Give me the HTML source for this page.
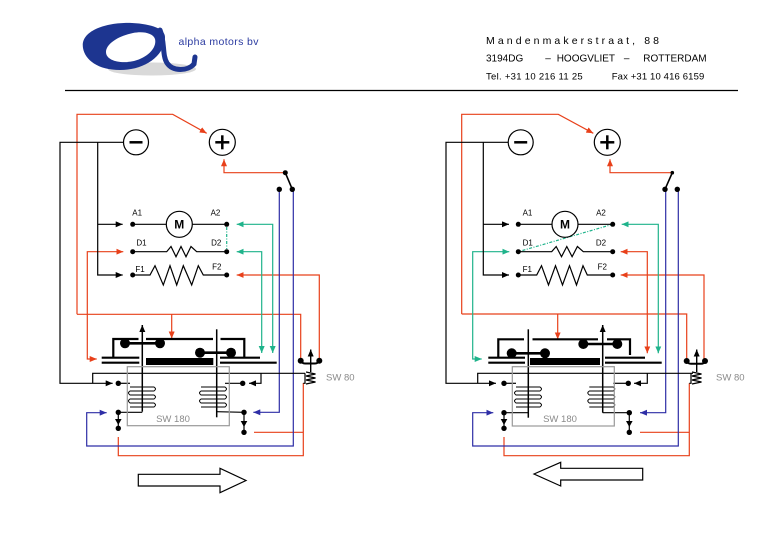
<!DOCTYPE html>
<html><head><meta charset="utf-8"><style>
html,body{margin:0;padding:0;background:#fff;}
svg{display:block;}
text{font-family:"Liberation Sans",sans-serif;}
</style></head><body>
<svg width="780" height="540" viewBox="0 0 780 540" xmlns="http://www.w3.org/2000/svg">
<defs>
<marker id="mR" viewBox="0 0 7 6" refX="7" refY="3" markerWidth="7" markerHeight="6" markerUnits="userSpaceOnUse" orient="auto-start-reverse"><path d="M0,0L7,3L0,6z" fill="#e8401a"/></marker>
<marker id="mT" viewBox="0 0 7 6" refX="7" refY="3" markerWidth="7" markerHeight="6" markerUnits="userSpaceOnUse" orient="auto-start-reverse"><path d="M0,0L7,3L0,6z" fill="#1fb38b"/></marker>
<marker id="mB" viewBox="0 0 7 6" refX="7" refY="3" markerWidth="7" markerHeight="6" markerUnits="userSpaceOnUse" orient="auto-start-reverse"><path d="M0,0L7,3L0,6z" fill="#2e2ea6"/></marker>
<marker id="mK" viewBox="0 0 7 6" refX="7" refY="3" markerWidth="7" markerHeight="6" markerUnits="userSpaceOnUse" orient="auto-start-reverse"><path d="M0,0L7,3L0,6z" fill="#000"/></marker>
</defs>

<!-- ===== HEADER ===== -->
<ellipse cx="152" cy="69" rx="44" ry="6.5" fill="#d9d9d9"/>
<path fill-rule="evenodd" fill="#1d3590" d="M83,48 C80,30 108,22 132,23 C152,24 165,29 165,37 C165,55 146,70 120,70 C98,70 85,60 83,48 Z M106,52 C106,61 121,64 134,61 C149,57 157,47 155,39 C153,33 143,31 133,33 C118,36 106,44 106,52 Z"/>
<path d="M160,30 C165,42 162,55 167,63 C173,72 188,71 194,64 L195,57" fill="none" stroke="#1d3590" stroke-width="5" stroke-linecap="round"/>
<text x="178.5" y="45" font-size="10.5" fill="#2a3aa0" textLength="80" lengthAdjust="spacing">alpha motors bv</text>

<text x="486" y="44" font-size="10.5" fill="#000" textLength="173" lengthAdjust="spacing">Mandenmakerstraat, 88</text>
<text x="486" y="61.7" font-size="10" fill="#000">3194DG</text>
<text x="548" y="61.7" font-size="10" fill="#000" text-anchor="middle">–</text>
<text x="556.7" y="61.7" font-size="10" fill="#000">HOOGVLIET</text>
<text x="626.7" y="61.7" font-size="10" fill="#000" text-anchor="middle">–</text>
<text x="643.3" y="61.7" font-size="10" fill="#000">ROTTERDAM</text>
<text x="486" y="79.3" font-size="9.5" fill="#000" textLength="96.7" lengthAdjust="spacing">Tel. +31 10 216 11 25</text>
<text x="611.7" y="79.3" font-size="9.5" fill="#000" textLength="92.6" lengthAdjust="spacing">Fax +31 10 416 6159</text>
<line x1="65" y1="90.5" x2="738" y2="90.5" stroke="#000" stroke-width="1.2"/>

<!-- ===== LEFT DIAGRAM ===== -->
<g fill="none" stroke-width="1.2">
<g stroke="#e8401a">
<polyline points="77,314.3 77,114.3 172.7,114.3 206.7,133.3" marker-end="url(#mR)"/>
<polyline points="77,314.3 300.7,314.3 300.7,361"/>
<line x1="171.7" y1="314.3" x2="171.7" y2="338.5" marker-end="url(#mR)"/>
<polyline points="96.7,359 87.3,359 87.3,251.7 123.3,251.7" marker-start="url(#mR)" marker-end="url(#mR)"/>
<polyline points="236.7,275 319.3,275 319.3,361" marker-start="url(#mR)"/>
<polyline points="118.3,437 118.3,455.7 303.3,455.7 303.3,383"/>
<line x1="254" y1="432.3" x2="303.3" y2="432.3"/>
<polyline points="224,159.3 224,172.7 285.3,172.7" marker-start="url(#mR)"/>
</g>
<g stroke="#1fb38b">
<polyline points="236.7,224.3 272.7,224.3 272.7,353" marker-start="url(#mT)" marker-end="url(#mT)"/>
<polyline points="236.7,251.7 261.7,251.7 261.7,353" marker-start="url(#mT)" marker-end="url(#mT)"/>
<line x1="226.7" y1="227" x2="226.7" y2="249" stroke-dasharray="3,1.5,1,1.5"/>
</g>
<g stroke="#2e2ea6">
<polyline points="279.3,189.3 279.3,412.3 253.3,412.3" marker-end="url(#mB)"/>
<polyline points="293.3,189.3 293.3,446 86.7,446 86.7,412.7 106.7,412.7" marker-end="url(#mB)"/>
</g>
<g stroke="#000">
<polyline points="123.5,142.3 60,142.3 60,383.3 112.7,383.3" marker-end="url(#mK)"/>
<polyline points="97.7,142.3 97.7,275 122.7,275" marker-end="url(#mK)"/>
<line x1="97.7" y1="224.3" x2="122.7" y2="224.3" marker-end="url(#mK)"/>
<line x1="132.7" y1="224.3" x2="166.3" y2="224.3"/>
<line x1="192.3" y1="224.3" x2="226.7" y2="224.3"/>
<path d="M132.7,251.7 L166.7,251.7 L171,246.5 L176,256.7 L181,246.5 L186,256.7 L191,246.5 L196.7,251.7 L226.7,251.7"/>
<path d="M132.7,275 L150,275 L155,265.7 L163.3,285 L170,265.7 L176.7,285 L183.3,265.7 L191.7,285 L198.3,265.7 L203.3,275 L226.7,275"/>
<line x1="285.3" y1="172.7" x2="292.3" y2="189.3" stroke-width="1.6"/>
<polyline points="305,373.3 92.7,373.3 92.7,383.3"/>
<polyline points="261,373.3 261,383.3 249,383.3" marker-end="url(#mK)"/>
<polyline points="305,373.3 305,383.3 303.3,383.3"/>
<path d="M306,372 L315.5,374 L306,376 L315.5,378 L306,380 L315.5,382 L306,384"/>
<line x1="310.7" y1="372" x2="310.7" y2="349.5" marker-end="url(#mK)" stroke-width="1.4"/>
<path d="M300.7,360.7 Q302,363.5 305,363.5 L315,363.5 Q318,363.5 319.3,360.7" stroke-width="2"/>
<line x1="118.3" y1="383.3" x2="130" y2="383.3"/>
<line x1="225" y1="383.3" x2="242.7" y2="383.3"/>
<line x1="118.3" y1="412.3" x2="142.3" y2="412.3"/>
<line x1="118.3" y1="412.3" x2="118.3" y2="428.3"/>
<line x1="216.7" y1="411.7" x2="244" y2="412.3"/>
<line x1="244" y1="412.3" x2="244" y2="432.3"/>
<g stroke-width="2.2">
<line x1="101.7" y1="357.7" x2="139.3" y2="357.7"/>
<line x1="101.7" y1="362.7" x2="139.3" y2="362.7"/>
<line x1="220" y1="357.7" x2="260" y2="357.7"/>
<line x1="220" y1="362.7" x2="276.7" y2="362.7"/>
<polyline points="113.3,357.7 113.3,339 138.5,339"/>
<line x1="146" y1="339" x2="213" y2="339"/>
<polyline points="220.5,339 244.3,339 244.3,357"/>
<line x1="125" y1="343.3" x2="160" y2="343.3" stroke-width="2.6"/>
<line x1="200" y1="352.7" x2="231" y2="352.7" stroke-width="2.6"/>
</g>
<line x1="142.3" y1="411.7" x2="142.3" y2="325" stroke-width="1.5" marker-end="url(#mK)"/>
<line x1="216.7" y1="329.3" x2="216.7" y2="417.3" stroke-width="1.5"/>
<path d="M130,387 L154,387 Q157,389 154,391 L130,391 Q127,393 130,395 L154,395 Q157,397 154,399 L130,399 Q127,401 130,403 L154,403 Q157,405 154,407 L130,407" stroke-width="1"/>
<path d="M201,387 L225,387 Q228,389 225,391 L201,391 Q198,393 201,395 L225,395 Q228,397 225,399 L201,399 Q198,401 201,403 L225,403 Q228,405 225,407 L201,407" stroke-width="1"/>
</g>
<rect x="127.3" y="366.7" width="102" height="59" stroke="#999" stroke-width="1.2"/>
</g>
<g fill="#000">
<rect x="146" y="358" width="67.3" height="7"/>
<circle cx="125" cy="343.3" r="5"/><circle cx="160" cy="343.3" r="5"/>
<circle cx="200" cy="352.7" r="5"/><circle cx="231" cy="352.7" r="5"/>
<circle cx="132.7" cy="224.3" r="2.5"/><circle cx="226.7" cy="224.3" r="2.5"/>
<circle cx="132.7" cy="251.7" r="2.5"/><circle cx="226.7" cy="251.7" r="2.5"/>
<circle cx="132.7" cy="275" r="2.5"/><circle cx="226.7" cy="275" r="2.5"/>
<circle cx="285.3" cy="172.7" r="2.5"/><circle cx="279.3" cy="189.3" r="2.7"/><circle cx="292.3" cy="189.3" r="2.7"/>
<circle cx="300.7" cy="360.7" r="3"/><circle cx="319.3" cy="360.7" r="3"/>
<circle cx="118.3" cy="383.3" r="2.7"/><circle cx="242.7" cy="383.3" r="2.7"/>
<circle cx="118.3" cy="412.3" r="2.7"/><circle cx="118.3" cy="428.3" r="2.7"/>
<circle cx="244" cy="412.3" r="2.7"/><circle cx="244" cy="432.3" r="2.7"/>
<polygon points="118.3,425 115,419 121.6,419"/>
<polygon points="244,427 240.7,421 247.3,421"/>
</g>
<g fill="#fff" stroke="#000" stroke-width="1.2">
<circle cx="136" cy="142.3" r="12.5"/>
<circle cx="222.3" cy="142.3" r="13"/>
<circle cx="179.3" cy="224.3" r="13"/>
</g>
<g stroke="#000" stroke-width="2.5">
<line x1="129.5" y1="142.3" x2="142.5" y2="142.3"/>
<line x1="215.3" y1="142.3" x2="229.3" y2="142.3"/>
<line x1="222.3" y1="135.3" x2="222.3" y2="149.3"/>
</g>
<text x="179.3" y="228.6" font-size="12" font-weight="bold" text-anchor="middle">M</text>
<g font-size="8" text-anchor="middle" fill="#000">
<text x="137.2" y="215.5">A1</text><text x="215.5" y="215.5">A2</text>
<text x="141.5" y="245.5">D1</text><text x="216.2" y="245.5">D2</text>
<text x="140" y="272">F1</text><text x="216.8" y="269.5">F2</text>
</g>
<text x="173" y="422" font-size="9.5" text-anchor="middle" fill="#8a8a8a">SW 180</text>
<text x="326" y="380.5" font-size="9.5" fill="#8a8a8a">SW 80</text>

<!-- ===== RIGHT DIAGRAM ===== -->
<g fill="none" stroke-width="1.2">
<g stroke="#e8401a">
<polyline points="461.7,314 461.7,114.3 558.3,114.3 593.3,133.3" marker-end="url(#mR)"/>
<polyline points="461.7,314 686.7,314 686.7,361"/>
<line x1="557.7" y1="314" x2="557.7" y2="339.3" marker-end="url(#mR)"/>
<polyline points="620.7,251.7 647.3,251.7 647.3,353.3" marker-start="url(#mR)" marker-end="url(#mR)"/>
<polyline points="620.7,275 704,275 704,361" marker-start="url(#mR)"/>
<polyline points="504,437 504,455.7 689.3,455.7 689.3,383.3"/>
<line x1="640" y1="432.3" x2="689.3" y2="432.3"/>
<polyline points="610,159.3 610,172.7 672.3,172.7" marker-start="url(#mR)"/>
</g>
<g stroke="#1fb38b">
<polyline points="621.7,224.3 658.3,224.3 658.3,353.3" marker-start="url(#mT)" marker-end="url(#mT)"/>
<polyline points="481.7,359 472.7,359 472.7,251.7 509.3,251.7" marker-start="url(#mT)" marker-end="url(#mT)"/>
<line x1="612.7" y1="224.3" x2="518.3" y2="251.7" stroke-dasharray="3,1.5,1,1.5"/>
</g>
<g stroke="#2e2ea6">
<polyline points="665.7,189.3 665.7,412.7 640,412.7" marker-end="url(#mB)"/>
<polyline points="678.3,189.3 678.3,446 472.7,446 472.7,412.7 493.3,412.7" marker-end="url(#mB)"/>
</g>
<g stroke="#000">
<polyline points="508,142.3 446,142.3 446,383.3 496,383.3" marker-end="url(#mK)"/>
<polyline points="483.3,142.3 483.3,275 509,275" marker-end="url(#mK)"/>
<line x1="483.3" y1="224.3" x2="509" y2="224.3" marker-end="url(#mK)"/>
<line x1="518.3" y1="224.3" x2="552" y2="224.3"/>
<line x1="578" y1="224.3" x2="612.7" y2="224.3"/>
<path d="M518.3,251.7 L551.7,251.7 L556.2,246.5 L561.5,256.7 L566.8,246.5 L572.1,256.7 L577.4,246.5 L583.3,251.7 L612.7,251.7"/>
<path d="M518.3,275 L536.7,275 L541.5,265.7 L548.5,285 L555.5,265.7 L562.5,285 L569.5,265.7 L576.5,285 L583,265.7 L587.3,275 L612.7,275"/>
<line x1="672.3" y1="172.7" x2="665" y2="189.3" stroke-width="1.6"/>
<polyline points="693,373.3 477.7,373.3 477.7,383.3"/>
<polyline points="647.3,373.3 647.3,383.3 634,383.3" marker-end="url(#mK)"/>
<polyline points="691,373.3 691,383.3 689.3,383.3"/>
<path d="M692,372 L701.5,374 L692,376 L701.5,378 L692,380 L701.5,382 L692,384"/>
<line x1="696.7" y1="372" x2="696.7" y2="349.5" marker-end="url(#mK)" stroke-width="1.4"/>
<path d="M686.7,361 Q688,363.8 691,363.8 L701,363.8 Q704,363.8 705,361" stroke-width="2"/>
<line x1="504" y1="383.3" x2="516" y2="383.3"/>
<line x1="613.3" y1="383.3" x2="628.3" y2="383.3"/>
<line x1="504" y1="412.7" x2="528.3" y2="412.7"/>
<line x1="504" y1="412.7" x2="504" y2="428.3"/>
<line x1="602.7" y1="412.7" x2="629.3" y2="412.7"/>
<line x1="629.3" y1="412.7" x2="629.3" y2="432.3"/>
<g stroke-width="2.2">
<line x1="488.3" y1="357.7" x2="525" y2="357.7"/>
<line x1="488.3" y1="362.7" x2="525" y2="362.7"/>
<line x1="605" y1="357.7" x2="645" y2="357.7"/>
<line x1="605" y1="362.7" x2="661.7" y2="362.7"/>
<polyline points="498.3,357.7 498.3,339.3 524,339.3"/>
<line x1="532.5" y1="339.3" x2="598" y2="339.3"/>
<polyline points="607,339.3 630,339.3 630,355"/>
<line x1="511.7" y1="353.3" x2="545" y2="353.3" stroke-width="2.6"/>
<line x1="583.3" y1="344" x2="617.3" y2="344" stroke-width="2.6"/>
</g>
<line x1="528.3" y1="329.3" x2="528.3" y2="417.7" stroke-width="1.5"/>
<line x1="602.7" y1="412.7" x2="602.7" y2="325" stroke-width="1.5" marker-end="url(#mK)"/>
<path d="M516,387 L540,387 Q543,389 540,391 L516,391 Q513,393 516,395 L540,395 Q543,397 540,399 L516,399 Q513,401 516,403 L540,403 Q543,405 540,407 L516,407" stroke-width="1"/>
<path d="M589.3,387 L613.3,387 Q616.3,389 613.3,391 L589.3,391 Q586.3,393 589.3,395 L613.3,395 Q616.3,397 613.3,399 L589.3,399 Q586.3,401 589.3,403 L613.3,403 Q616.3,405 613.3,407 L589.3,407" stroke-width="1"/>
</g>
<rect x="512.3" y="366.7" width="102" height="59.3" stroke="#999" stroke-width="1.2"/>
</g>
<g fill="#000">
<rect x="530" y="358" width="70" height="7"/>
<circle cx="511.7" cy="353.3" r="5"/><circle cx="545" cy="353.3" r="5"/>
<circle cx="583.3" cy="344" r="5"/><circle cx="617.3" cy="344" r="5"/>
<circle cx="518.3" cy="224.3" r="2.5"/><circle cx="612.7" cy="224.3" r="2.5"/>
<circle cx="518.3" cy="251.7" r="2.5"/><circle cx="612.7" cy="251.7" r="2.5"/>
<circle cx="518.3" cy="275" r="2.5"/><circle cx="612.7" cy="275" r="2.5"/>
<circle cx="672.3" cy="172.7" r="1.8"/><circle cx="665" cy="189.3" r="2.7"/><circle cx="677.3" cy="189.3" r="2.7"/>
<circle cx="686.7" cy="361" r="3"/><circle cx="705" cy="361" r="3"/>
<circle cx="504" cy="383.3" r="2.7"/><circle cx="628.3" cy="383.3" r="2.7"/>
<circle cx="504" cy="412.7" r="2.7"/><circle cx="504" cy="428.3" r="2.7"/>
<circle cx="629.3" cy="412.7" r="2.7"/><circle cx="629.3" cy="432.3" r="2.7"/>
<polygon points="504,425 500.7,419 507.3,419"/>
<polygon points="629.3,427 626,421 632.6,421"/>
</g>
<g fill="#fff" stroke="#000" stroke-width="1.2">
<circle cx="520.7" cy="142.3" r="12.5"/>
<circle cx="607.3" cy="142.3" r="13"/>
<circle cx="565" cy="224.3" r="13"/>
</g>
<g stroke="#000" stroke-width="2.5">
<line x1="514.2" y1="142.3" x2="527.2" y2="142.3"/>
<line x1="600.3" y1="142.3" x2="614.3" y2="142.3"/>
<line x1="607.3" y1="135.3" x2="607.3" y2="149.3"/>
</g>
<text x="565" y="228.6" font-size="12" font-weight="bold" text-anchor="middle">M</text>
<g font-size="8" text-anchor="middle" fill="#000">
<text x="527.5" y="215.5">A1</text><text x="601" y="215.5">A2</text>
<text x="527.7" y="245.5">D1</text><text x="601" y="245.5">D2</text>
<text x="527.3" y="272">F1</text><text x="602.3" y="269.5">F2</text>
</g>
<text x="560" y="422" font-size="9.5" text-anchor="middle" fill="#8a8a8a">SW 180</text>
<text x="716" y="380.5" font-size="9.5" fill="#8a8a8a">SW 80</text>

<polygon points="138.3,474.3 220,474.3 220,468.3 246,480.5 220,492.7 220,486 138.3,486" fill="#fff" stroke="#000" stroke-width="1.2"/>
<polygon points="534,474 560.7,462.3 560.7,468.3 642.7,468.3 642.7,480 560.7,480 560.7,486" fill="#fff" stroke="#000" stroke-width="1.2"/>
</svg>
</body></html>
